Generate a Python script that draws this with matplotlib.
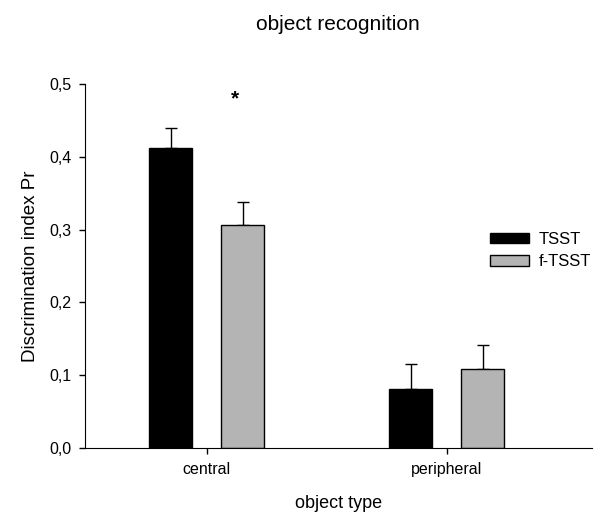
import numpy as np
import matplotlib.pyplot as plt
from matplotlib.ticker import FuncFormatter

plt.rcParams['font.family'] = ['Liberation Sans', 'DejaVu Sans']

categories = ["central", "peripheral"]
groups = ["TSST", "f-TSST"]
means = {"TSST": [0.412, 0.081], "f-TSST": [0.307, 0.108]}
errors = {"TSST": [0.028, 0.034], "f-TSST": [0.031, 0.034]}
colors = {"TSST": "#000000", "f-TSST": "#b4b4b4"}
star_pos = (0.118, 0.48)

fig = plt.figure(figsize=(6.0, 5.17), dpi=100)
ax = fig.add_axes([0.1417, 0.1335, 0.8445, 0.704])

x = np.arange(len(categories))
width = 0.18
offsets = [-0.15, 0.15]
for g, off in zip(groups, offsets):
    ax.bar(x + off, means[g], width, color=colors[g], edgecolor="black",
           linewidth=1.0, label=g, zorder=2)
    ax.errorbar(x + off, means[g], yerr=[np.zeros(len(x)), errors[g]],
                fmt="none", ecolor="black", elinewidth=1.0, capsize=4,
                capthick=1.0, zorder=1)

ax.text(star_pos[0], star_pos[1], "*", ha="center", va="center", fontsize=15,
        fontweight="bold")

ax.set_xlim(-0.507, 1.604)
ax.set_ylim(0, 0.5)
ax.set_yticks(np.arange(0, 0.51, 0.1))
ax.yaxis.set_major_formatter(FuncFormatter(lambda v, p: f"{v:.1f}".replace(".", ",")))
ax.set_xticks(x)
ax.set_xticklabels(categories)
ax.tick_params(axis="both", labelsize=11.5, direction="out", length=4, width=1, pad=6)
ax.spines["top"].set_visible(False)
ax.spines["right"].set_visible(False)

ax.set_ylabel("Discrimination index Pr", fontsize=13.5, labelpad=7)
ax.set_xlabel("object type", fontsize=13, labelpad=13)
ax.set_title("object recognition", fontsize=15, pad=39)

ax.legend(loc="upper left", bbox_to_anchor=(0.77, 0.635), frameon=False,
          fontsize=12, handlelength=2.3, handleheight=0.6, labelspacing=0.45,
          handletextpad=0.6)

fig.savefig("out.png", dpi=100)
